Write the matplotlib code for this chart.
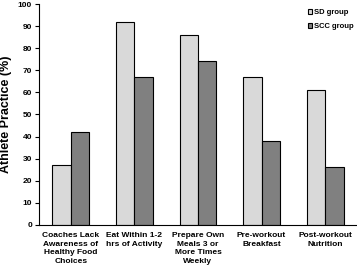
import matplotlib.pyplot as plt
import numpy as np

plt.rcParams['font.family'] = ['Liberation Sans', 'DejaVu Sans']

categories = ['Coaches Lack\nAwareness of\nHealthy Food\nChoices',
              'Eat Within 1-2\nhrs of Activity',
              'Prepare Own\nMeals 3 or\nMore Times\nWeekly',
              'Pre-workout\nBreakfast',
              'Post-workout\nNutrition']
sd_group = [27, 92, 86, 67, 61]
scc_group = [42, 67, 74, 38, 26]

fig = plt.figure(figsize=(3.57, 2.69), dpi=100)
ax = fig.add_axes([0.109, 0.164, 0.891, 0.821])

x = np.arange(len(categories))
w = 0.29
ax.bar(x - w / 2, sd_group, w, color='#d9d9d9', edgecolor='black', linewidth=0.8, label='SD group')
ax.bar(x + w / 2, scc_group, w, color='#808080', edgecolor='black', linewidth=0.8, label='SCC group')

ax.set_xlim(-0.5, 4.5)
ax.set_ylim(0, 100)
ax.set_yticks(range(0, 101, 10))
ax.set_xticks(x)
ax.set_xticklabels(categories, fontsize=6, fontweight='bold', linespacing=1.35)
ax.tick_params(axis='x', length=0, pad=5)
ax.tick_params(axis='y', labelsize=6, length=3, width=0.8, pad=2)
for lab in ax.get_yticklabels():
    lab.set_fontweight('bold')
ax.spines['top'].set_visible(False)
ax.spines['right'].set_visible(False)
ax.spines['left'].set_linewidth(0.8)
ax.spines['bottom'].set_linewidth(0.8)
ax.set_ylabel('Athlete Practice (%)', fontsize=9, fontweight='bold')
ax.yaxis.set_label_coords(-0.085, 0.5)

leg = ax.legend(loc='upper right', bbox_to_anchor=(1.01, 1.01), frameon=False,
                prop={'size': 5.5, 'weight': 'bold'}, handlelength=0.6, handleheight=0.6,
                handletextpad=0.2, labelspacing=0.9)

fig.savefig('out.png', dpi=100)
